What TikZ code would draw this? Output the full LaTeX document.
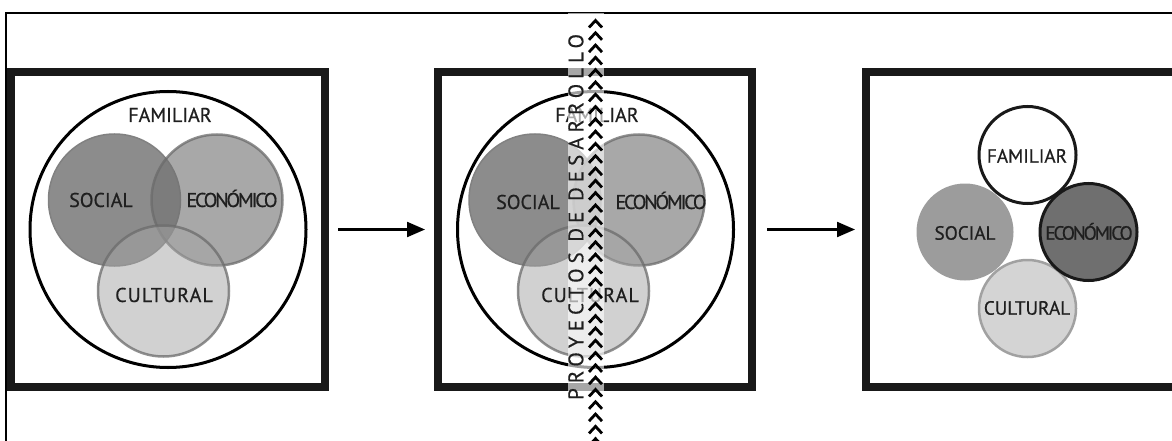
\documentclass[tikz,border=0pt]{standalone}
\usepackage{fontspec}
\setmainfont{PT Sans}
\newfontfamily\labfont[FakeBold=0.6]{PT Sans}
\newfontfamily\labwide[LetterSpace=5.5,FakeBold=0.6]{PT Sans}
\newfontfamily\labtight[LetterSpace=-11,FakeBold=0.6]{PT Sans}
\newfontfamily\stripefont[LetterSpace=24,FakeBold=0.5]{PT Sans}
\usetikzlibrary{arrows.meta}
\definecolor{socfill}{gray}{0.55}
\definecolor{ecofill}{gray}{0.447}
\definecolor{culfill}{gray}{0.647}
\definecolor{ringline}{gray}{0.42}
\definecolor{socthree}{gray}{0.61}
\definecolor{ecothree}{gray}{0.435}
\definecolor{culthree}{gray}{0.83}
\definecolor{culthreeline}{gray}{0.63}
\definecolor{txt}{gray}{0.12}
\tikzset{
  box/.style={draw=black!90, line width=8pt, minimum width=314pt, minimum height=315pt, inner sep=0pt},
  famring/.style={circle, draw=black, line width=3pt, minimum size=276pt, inner sep=0pt},
  soc/.style={circle, inner sep=0pt, minimum size=132pt, fill=socfill, draw=socfill!92!black, line width=1.5pt},
  eco/.style={circle, inner sep=0pt, minimum size=131pt, fill=ecofill, fill opacity=0.61, draw=ringline, draw opacity=0.75, line width=2.5pt},
  cul/.style={circle, inner sep=0pt, minimum size=131pt, fill=culfill, fill opacity=0.5, draw=ringline, draw opacity=0.75, line width=2.5pt},
  lbl/.style={text=txt, inner sep=0pt, text height=14pt, text depth=0pt, font=\labfont\fontsize{20pt}{22pt}\selectfont},
  lblwide/.style={lbl, font=\labwide\fontsize{20pt}{22pt}\selectfont},
  lbltight/.style={lbl, font=\labtight\fontsize{20pt}{22pt}\selectfont},
  lblsmall/.style={lbl, text height=13.4pt, font=\labfont\fontsize{19.2pt}{21pt}\selectfont},
  lblsmalltight/.style={lblsmall, font=\labtight\fontsize{19.2pt}{21pt}\selectfont},
  smallcirc/.style={circle, inner sep=0pt, minimum size=97pt},
  arrow/.style={line width=2.2pt, -{Triangle[length=18pt,width=15pt]}},
  chevron/.style={line width=2.8pt, black, miter limit=10},
}
\begin{document}
\begin{tikzpicture}[x=1pt,y=-1pt]
\useasboundingbox (0,0) rectangle (1172,441);
\clip (0,0) rectangle (1172,441);
\fill[white] (0,0) rectangle (1172,441);
% outer frame
\draw[line width=1.2pt] (6,460) -- (6,13) -- (1200,13);

% ---------- box 1 ----------
\node[box] (box1) at (168,229.5) {};
\node[famring] (fam1) at (168,229.5) {};
\node[soc] (soc1) at (114.5,200) {};
\node[eco] (eco1) at (217,200) {};
\node[cul] (cul1) at (163.5,291) {};
\node[lbl] (t1fam) at (170,115) {FAMILIAR};
\node[lbl] (t1soc) at (101,200) {SOCIAL};
\node[lbltight] (t1eco) at (232,200) {ECONÓMICO};
\node[lblwide] (t1cul) at (164,295) {CULTURAL};

% ---------- box 2 ----------
\node[box] (box2) at (595,229.5) {};
\node[famring] (fam2) at (595.5,229.5) {};
\node[soc] (soc2) at (535,200) {};
\node[eco] (eco2) at (639,200) {};
\node[cul] (cul2) at (583.5,291) {};
\node[lbl] (t2fam) at (597,115) {FAMILIAR};
\node[lbl] (t2soc) at (528,202) {SOCIAL};
\node[lbltight] (t2eco) at (661,202) {ECONÓMICO};
\node[lblwide] (t2cul) at (590,295) {CULTURAL};

% stripe over box 2
\node[fill=white, fill opacity=0.62, minimum width=36pt, minimum height=430pt, inner sep=0pt] (stripe) at (585.5,228) {};
\node[rotate=90, text=txt, inner sep=0pt, text height=14.5pt, text depth=0pt,
      font=\stripefont\fontsize{21pt}{23pt}\selectfont] (ptxt) at (576,217) {PROYECTOS DE DESARROLLO};
\foreach \k in {0,...,34}{
  \pgfmathsetmacro\yy{20.5+12.3*\k}
  \draw[chevron] (589,\yy+7) -- (595.5,\yy) -- (602,\yy+7);
}

% ---------- box 3 ----------
\node[box] (box3) at (1023,229.5) {};
\node[smallcirc, fill=socthree] (soc3) at (965,232) {};
\node[smallcirc, fill=culthree, draw=culthreeline, line width=2.5pt] (cul3) at (1027.5,308.5) {};
\node[smallcirc, fill=ecothree, draw=black!90, line width=3pt] (eco3) at (1088.5,232) {};
\node[smallcirc, fill=white, draw=black!90, line width=3pt] (fam3) at (1027.5,155) {};
\node[lblsmall] (t3fam) at (1027,156) {FAMILIAR};
\node[lblsmall] (t3soc) at (965,233) {SOCIAL};
\node[lblsmalltight] (t3eco) at (1089,233) {ECONÓMICO};
\node[lblsmall] (t3cul) at (1027,308) {CULTURAL};

% ---------- arrows ----------
\draw[arrow, shorten <=9pt, shorten >=9pt] (box1.east) -- (box2.west);
\draw[arrow, shorten <=11pt, shorten >=7pt] (box2.east) -- (box3.west);
\end{tikzpicture}
\end{document}
